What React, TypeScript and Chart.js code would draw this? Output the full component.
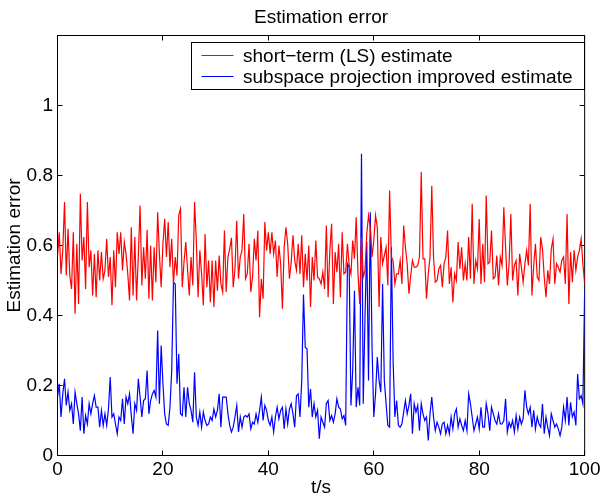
import React, { useEffect, useRef } from "react";
import { Chart, registerables } from "chart.js";

Chart.register(...registerables);

// ---- data ----
const T_START = 0;
const T_END = 100;

const RED_LS: number[] = [
  0.567,0.638,0.519,0.586,0.724,0.514,0.648,0.514,0.476,0.638,
  0.405,0.605,0.433,0.748,0.557,0.624,0.476,0.724,0.538,0.586,
  0.457,0.576,0.452,0.586,0.500,0.581,0.505,0.529,0.619,0.510,
  0.567,0.429,0.586,0.481,0.638,0.576,0.638,0.529,0.610,0.576,
  0.519,0.443,0.652,0.457,0.624,0.443,0.571,0.714,0.486,0.595,
  0.505,0.645,
  0.448,0.600,0.443,0.595,0.495,0.695,0.576,0.481,0.605,0.676,
  0.567,0.667,0.538,0.619,0.490,0.567,0.514,0.686,0.705,0.481,
  0.552,0.610,0.533,0.457,0.567,0.486,0.724,0.614,0.452,0.586,
  0.519,0.429,0.633,0.481,0.557,0.438,0.557,0.424,0.557,0.471,
  0.571,0.490,0.467,0.643,0.467,0.567,0.590,0.622,0.481,0.533,
  0.671,
  0.505,0.567,0.586,0.690,0.505,0.519,0.605,0.467,0.510,0.619,
  0.557,0.643,0.395,0.505,0.448,0.667,0.586,0.638,0.576,0.638,
  0.576,0.614,0.510,0.600,0.548,0.419,0.595,0.652,0.605,0.505,
  0.552,0.629,0.557,0.529,0.605,0.519,0.629,0.481,0.576,0.500,
  0.600,0.424,0.567,0.500,0.614,0.510,0.505,0.490,0.524,0.476,
  0.657,
  0.452,0.586,0.662,0.433,0.581,0.524,0.605,0.452,0.638,0.519,
  0.524,0.605,0.543,0.519,0.614,0.562,0.681,0.519,0.433,0.624,
  0.510,0.529,0.633,0.686,0.652,0.567,0.614,0.686,0.652,0.424,
  0.624,0.548,0.571,0.595,0.486,0.757,0.567,0.557,0.490,0.519,
  0.519,0.557,0.490,0.657,0.595,0.548,0.462,0.514,0.557,0.538,
  0.538,
  0.543,0.567,0.810,0.562,0.562,0.448,0.519,0.567,0.771,0.567,
  0.495,0.500,0.533,0.543,0.481,0.548,0.567,0.643,0.490,0.538,
  0.438,0.519,0.500,0.610,0.533,0.595,0.500,0.548,0.500,0.624,
  0.505,0.719,0.490,0.557,0.533,0.676,0.490,0.605,0.495,0.743,
  0.548,0.552,0.643,0.505,0.510,0.571,0.486,0.567,0.543,0.709,
  0.595,
  0.486,0.548,0.690,0.500,0.543,0.557,0.457,0.576,0.538,0.495,
  0.548,0.586,0.543,0.719,0.457,0.543,0.605,0.510,0.500,0.624,
  0.590,0.510,0.452,0.529,0.490,0.590,0.619,0.490,0.548,0.538,
  0.524,0.557,0.567,0.490,0.690,0.433,0.581,0.495,0.586,0.529,
  0.567,0.586,0.619,0.548,0.490,
];

const BLUE_SUBSPACE: number[] = [
  0.167,0.205,0.110,0.176,0.219,0.143,0.181,0.129,0.148,0.090,
  0.181,0.148,0.119,0.071,0.167,0.062,0.114,0.090,0.148,0.119,
  0.148,0.171,0.138,0.138,0.081,0.129,0.086,0.119,0.086,0.133,
  0.224,0.110,0.119,0.090,0.062,0.110,0.100,0.162,0.090,0.167,
  0.148,0.176,0.114,0.062,0.148,0.129,0.219,0.167,0.110,0.157,
  0.162,0.243,
  0.119,0.157,0.176,0.186,0.167,0.357,0.148,0.314,0.205,0.119,
  0.090,0.086,0.138,0.243,0.495,0.490,0.205,0.290,0.119,0.114,
  0.195,0.110,0.195,0.148,0.129,0.095,0.238,0.110,0.086,0.124,
  0.081,0.124,0.100,0.086,0.090,0.110,0.100,0.133,0.110,0.129,
  0.176,0.081,0.167,0.167,0.167,0.119,0.086,0.067,0.081,0.110,
  0.143,
  0.067,0.110,0.081,0.110,0.114,0.110,0.119,0.076,0.095,0.090,
  0.119,0.095,0.129,0.167,0.100,0.143,0.129,0.100,0.086,0.110,
  0.067,0.110,0.138,0.105,0.129,0.138,0.076,0.133,0.090,0.133,
  0.148,0.119,0.081,0.171,0.176,0.110,0.214,0.460,0.309,0.305,
  0.138,0.190,0.110,0.148,0.110,0.129,0.048,0.110,0.095,0.081,
  0.148,
  0.157,0.100,0.114,0.095,0.119,0.162,0.138,0.133,0.105,0.114,
  0.086,0.548,0.538,0.143,0.243,0.471,0.138,0.195,0.143,0.862,
  0.148,0.395,0.610,0.214,0.695,0.310,0.110,0.176,0.281,0.214,
  0.181,0.490,0.214,0.148,0.086,0.081,0.595,0.271,0.110,0.157,
  0.086,0.081,0.090,0.124,0.157,0.119,0.143,0.176,0.062,0.148,
  0.124,
  0.143,0.071,0.148,0.119,0.100,0.110,0.043,0.119,0.167,0.110,
  0.071,0.095,0.081,0.062,0.090,0.095,0.062,0.086,0.062,0.110,
  0.076,0.119,0.133,0.081,0.105,0.086,0.071,0.100,0.071,0.176,
  0.148,0.110,0.071,0.090,0.110,0.076,0.138,0.081,0.081,0.148,
  0.119,0.071,0.138,0.119,0.100,0.090,0.119,0.090,0.090,0.100,
  0.162,
  0.067,0.095,0.081,0.100,0.067,0.114,0.076,0.110,0.090,0.105,
  0.186,0.138,0.119,0.138,0.081,0.129,0.076,0.110,0.090,0.081,
  0.148,0.062,0.110,0.081,0.057,0.119,0.100,0.081,0.090,0.076,
  0.057,0.081,0.138,0.100,0.167,0.086,0.152,0.110,0.124,0.086,
  0.233,0.162,0.171,0.148,0.470,
];

const X_TICKS = [0, 20, 40, 60, 80, 100];
const Y_TICKS = [0, 0.2, 0.4, 0.6, 0.8, 1];
const Y_MIN = 0;
const Y_MAX = 1.2;

const TITLE = "Estimation error";
const X_LABEL = "t/s";
const Y_LABEL = "Estimation error";
const RED_LABEL = "short\u2212term (LS) estimate";
const BLUE_LABEL = "subspace projection improved estimate";

const FONT = "'Liberation Sans', Arial, Helvetica, sans-serif";
const FONT_SIZE = 19;

function toPoints(vals: number[]) {
  const n = vals.length;
  return vals.map((v, i) => ({ x: T_START + (i * (T_END - T_START)) / (n - 1), y: v }));
}

const matlabAxes = {
  id: "matlabAxes",
  beforeDatasetsDraw(chart: any) {
    const { ctx, chartArea, scales } = chart;
    const { left, right, top, bottom } = chartArea;
    const x = scales.x;
    const y = scales.y;
    ctx.save();
    ctx.strokeStyle = "#000";
    ctx.lineWidth = 1;
    ctx.strokeRect(left, top, right - left, bottom - top);
    const TL = 5;
    ctx.beginPath();
    for (const t of x.ticks) {
      const px = Math.floor(x.getPixelForValue(t.value)) + 0.5;
      ctx.moveTo(px, bottom);
      ctx.lineTo(px, bottom - TL);
      ctx.moveTo(px, top);
      ctx.lineTo(px, top + TL);
    }
    for (const t of y.ticks) {
      const py = Math.floor(y.getPixelForValue(t.value)) + 0.5;
      ctx.moveTo(left, py);
      ctx.lineTo(left + TL, py);
      ctx.moveTo(right, py);
      ctx.lineTo(right - TL, py);
    }
    ctx.stroke();
    // title
    ctx.fillStyle = "#000";
    ctx.font = `${FONT_SIZE}px ${FONT}`;
    ctx.textAlign = "center";
    ctx.textBaseline = "alphabetic";
    ctx.fillText(TITLE, (left + right) / 2, 22.5);
    ctx.restore();
  },
  afterDatasetsDraw(chart: any) {
    const { ctx } = chart;
    const bx = 191.5, by = 42.5, bw = 393, bh = 47;
    ctx.save();
    ctx.fillStyle = "#fff";
    ctx.fillRect(bx, by, bw, bh);
    ctx.strokeStyle = "#000";
    ctx.lineWidth = 1;
    ctx.strokeRect(bx, by, bw, bh);
    ctx.font = `${FONT_SIZE}px ${FONT}`;
    ctx.textAlign = "left";
    ctx.textBaseline = "alphabetic";
    const rows = [55.5, 76.5];
    chart.data.datasets.forEach((ds: any, i: number) => {
      const yy = rows[i];
      ctx.strokeStyle = ds.borderColor;
      ctx.beginPath();
      ctx.moveTo(201.5, yy);
      ctx.lineTo(233.5, yy);
      ctx.stroke();
      ctx.fillStyle = "#000";
      ctx.fillText(ds.label, 243, yy + 6.5);
    });
    ctx.restore();
  },
};

export default function App() {
  const ref = useRef<HTMLCanvasElement>(null);
  useEffect(() => {
    const canvas = ref.current;
    if (!canvas) return;
    const chart = new Chart(canvas, {
      type: "line",
      data: {
        datasets: [
          {
            label: RED_LABEL,
            data: toPoints(RED_LS),
            borderColor: "rgb(255,0,0)",
            borderWidth: 1.2,
            pointRadius: 0,
            tension: 0,
            fill: false,
          },
          {
            label: BLUE_LABEL,
            data: toPoints(BLUE_SUBSPACE),
            borderColor: "rgb(0,0,255)",
            borderWidth: 1.2,
            pointRadius: 0,
            tension: 0,
            fill: false,
          },
        ],
      },
      options: {
        responsive: false,
        animation: false,
        devicePixelRatio: 1,
        parsing: false as any,
        layout: { padding: { left: 0, top: 35.5, right: 16.5, bottom: 0 } },
        plugins: {
          legend: { display: false },
          title: { display: false },
          tooltip: { enabled: false },
        },
        scales: {
          x: {
            type: "linear",
            min: T_START,
            max: T_END,
            afterBuildTicks: (s: any) => {
              s.ticks = X_TICKS.map((v) => ({ value: v }));
            },
            afterFit: (s: any) => {
              s.height = 41.5;
            },
            grid: { display: false, drawTicks: false },
            border: { display: false },
            ticks: {
              color: "#000",
              font: { family: FONT, size: FONT_SIZE, lineHeight: 1 },
              padding: 4.5,
              maxRotation: 0,
              autoSkip: false,
              callback: (v: any) => String(v),
            },
            title: {
              display: true,
              text: X_LABEL,
              color: "#000",
              font: { family: FONT, size: FONT_SIZE, lineHeight: 1 },
              padding: { top: 0, bottom: 0 },
            },
          },
          y: {
            type: "linear",
            min: Y_MIN,
            max: Y_MAX,
            afterBuildTicks: (s: any) => {
              s.ticks = Y_TICKS.map((v) => ({ value: v }));
            },
            afterFit: (s: any) => {
              s.width = 57.5;
            },
            grid: { display: false, drawTicks: false },
            border: { display: false },
            ticks: {
              color: "#000",
              font: { family: FONT, size: FONT_SIZE, lineHeight: 1 },
              padding: 4.5,
              autoSkip: false,
              callback: (v: any) => String(v),
            },
            title: {
              display: true,
              text: Y_LABEL,
              color: "#000",
              font: { family: FONT, size: FONT_SIZE, lineHeight: 1 },
              padding: { top: 5.5, bottom: 0 },
            },
          },
        },
      },
      plugins: [matlabAxes],
    } as any);
    return () => chart.destroy();
  }, []);
  return (
    <div style={{ position: "fixed", left: 0, top: 0, width: 605, height: 497, background: "#fff" }}>
      <canvas ref={ref} width={605} height={497} style={{ display: "block", width: 605, height: 497 }} />
    </div>
  );
}
